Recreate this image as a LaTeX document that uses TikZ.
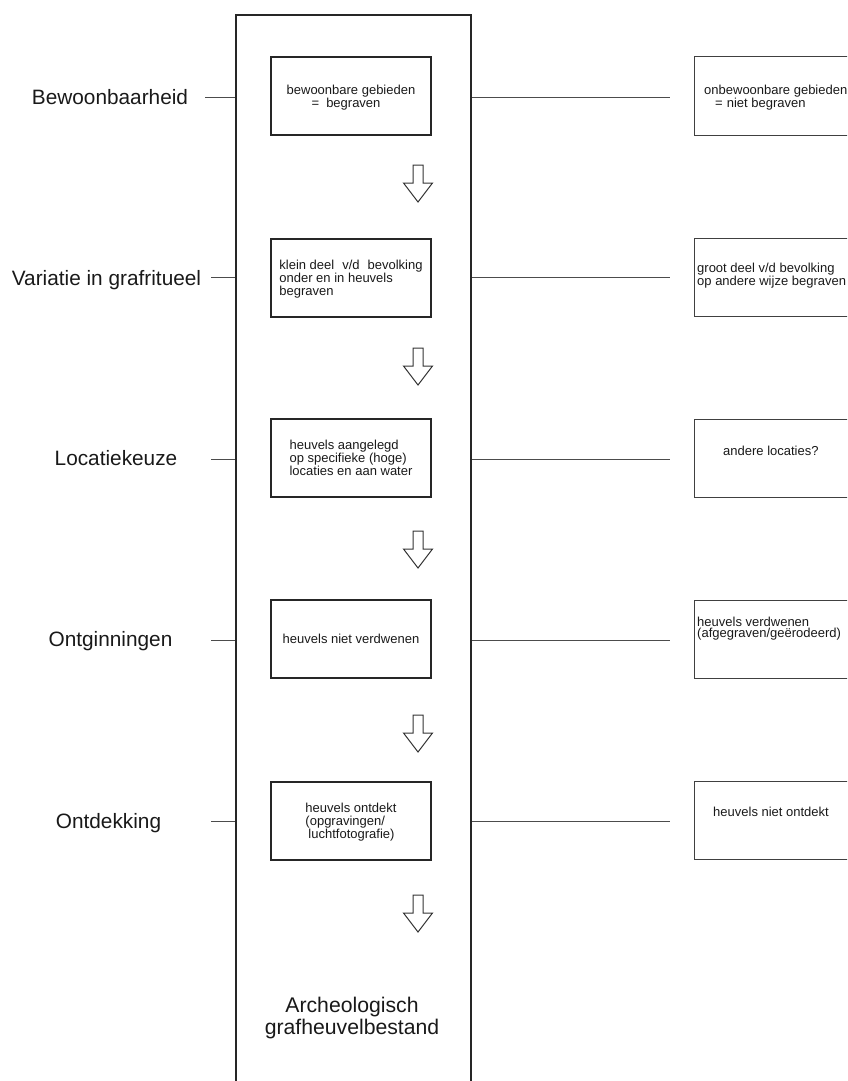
\documentclass[tikz,border=0pt]{standalone}
\usepackage{fontspec}
\setmainfont{Liberation Sans}
\begin{document}
\begin{tikzpicture}[x=1pt,y=-1pt,
  lbl/.style={font=\fontsize{20.8}{24}\selectfont, inner sep=0pt, text height=15pt, text depth=0pt, text=black!90},
  small/.style={font=\fontsize{13}{13}\selectfont, align=left, text depth=0pt, text=black!90},
  rsmall/.style={font=\fontsize{13}{11}\selectfont, align=left, inner sep=0pt, anchor=west, text=black!90},
  inbox/.style={draw=black!85, line width=2pt, minimum width=160pt, minimum height=78pt, inner sep=0pt, small},
  outbox/.style={draw=black!75, line width=1pt, minimum width=220pt, minimum height=78pt, anchor=west, inner sep=0pt},
  conn/.style={draw=black!70, line width=1pt},
  blockarrow/.pic={\draw[draw=black!80, line width=1pt, line join=miter] (-5,0) -- (5,0) -- (5,18) -- (14.5,18) -- (0,37) -- (-14.5,18) -- (-5,18) -- cycle;}
]
\useasboundingbox (0,0) rectangle (847,1081);
\clip (0,0) rectangle (847,1081);

% main column (open at the bottom)
\node[draw=black!85, line width=2pt, minimum width=235pt, minimum height=1120pt, anchor=north west, inner sep=0pt] (col) at (235,14) {};

% inner boxes
\node[inbox] (b1) at (351,96) {bewoonbare gebieden\\\hspace*{25pt}=\hspace{7pt}begraven};
\node[inbox] (b2) at (351,277.5) {klein deel\hspace{8pt}v/d\hspace{8pt}bevolking\\onder en in heuvels\\begraven};
\node[inbox] (b3) at (351,458) {heuvels aangelegd\\op specifieke (hoge)\\locaties en aan water};
\node[inbox] (b4) at (351,639) {heuvels niet verdwenen};
\node[inbox] (b5) at (351,820.5) {heuvels ontdekt\\(opgravingen/\\\hspace*{3pt}luchtfotografie)};

% block arrows
\pic at (418,165) {blockarrow};
\pic at (418,348) {blockarrow};
\pic at (418,531) {blockarrow};
\pic at (418,715) {blockarrow};
\pic at (418,895) {blockarrow};

% final text
\node[font=\fontsize{21.2}{21.5}\selectfont, align=center, text=black!90] (res) at (352,1018) {Archeologisch\\grafheuvelbestand};

% left labels
\node[lbl] (l1) at (110,97) {Bewoonbaarheid};
\node[lbl] (l2) at (106.5,278) {Variatie in grafritueel};
\node[lbl] (l3) at (116,458) {Locatiekeuze};
\node[lbl] (l4) at (110.5,639) {Ontginningen};
\node[lbl] (l5) at (108.5,821) {Ontdekking};

\coordinate (s1) at (205,97);
\coordinate (s2) at (211,277.5);
\coordinate (s3) at (211,459);
\coordinate (s4) at (211,640);
\coordinate (s5) at (211,821);
\foreach \i in {1,...,5}{\draw[conn] (s\i) -- (s\i -| col.west);}

% right boxes
\node[outbox] (rb1) at (694,96) {};
\node[outbox] (rb2) at (694,277.5) {};
\node[outbox] (rb3) at (694,458) {};
\node[outbox] (rb4) at (694,639) {};
\node[outbox] (rb5) at (694,820.5) {};

\node[rsmall] (rt1) at (704,98) {onbewoonbare gebieden\\\hspace*{11pt}=\hspace{4pt}niet begraven};
\node[rsmall] (rt2) at (697,276) {groot deel v/d bevolking\\op andere wijze begraven};
\node[rsmall] (rt3) at (723,451) {andere locaties?};
\node[rsmall] (rt4) at (697,629) {heuvels verdwenen\\(afgegraven/geërodeerd)};
\node[rsmall] (rt5) at (713,812) {heuvels niet ontdekt};

\coordinate (e1) at (670,97);
\coordinate (e2) at (670,277.5);
\coordinate (e3) at (670,459);
\coordinate (e4) at (670,640);
\coordinate (e5) at (670,821);
\foreach \i in {1,...,5}{\draw[conn] (col.east |- e\i) -- (e\i);}
\end{tikzpicture}
\end{document}
